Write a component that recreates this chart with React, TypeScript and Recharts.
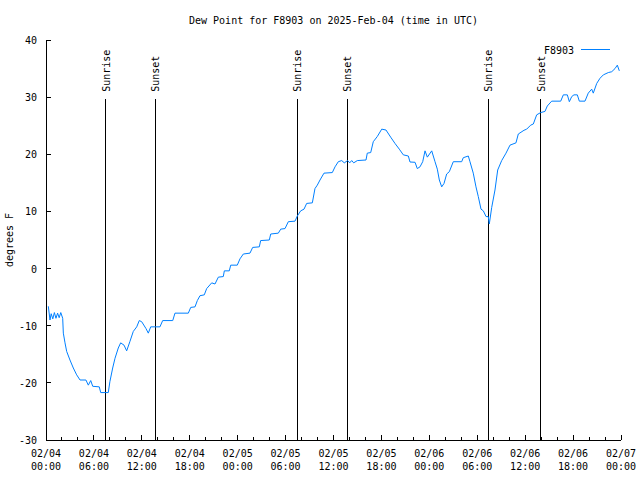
import React from 'react';
import { LineChart, Line, XAxis, YAxis, ReferenceLine } from 'recharts';

// Hours since 2025-02-04 00:00 UTC
const hours = [
  0.29, 0.5, 0.65, 0.85, 1.05, 1.25, 1.45, 1.65, 1.85, 2.09, 2.17, 2.38, 2.59, 3.0, 3.42, 3.84, 4.26, 5.0, 5.3, 5.6,
  5.85, 6.67, 6.85, 7.8, 8.0, 8.35, 8.64, 9.05, 9.35, 9.77, 10.1, 10.5, 10.93, 11.36, 11.68, 11.98, 12.52, 12.81, 13.11, 14.27,
  14.61, 15.87, 16.15, 17.82, 18.12, 18.66, 18.95, 19.28, 19.82, 20.12, 20.75, 21.16, 21.58, 22.2, 22.33, 22.95, 23.13, 23.95, 24.29, 24.71,
  25.54, 25.88, 26.71, 26.88, 27.96, 28.14, 29.09, 29.39, 29.93, 30.34, 31.18, 31.47, 31.89, 32.31, 32.64, 33.35, 33.68, 33.97, 34.31, 34.81,
  35.85, 36.19, 36.6, 37.03, 37.35, 37.78, 38.03, 38.28, 38.53, 38.98, 40.07, 40.23, 40.66, 40.98, 41.48, 42.04, 42.57, 43.16, 43.7, 44.24,
  44.74, 45.37, 45.58, 46.21, 46.49, 46.83, 47.17, 47.46, 47.75, 48.3, 48.71, 49.0, 49.25, 49.55, 49.84, 50.17, 50.5, 51.0, 52.05, 52.25,
  52.88, 53.09, 53.5, 53.84, 54.13, 54.47, 54.76, 55.1, 55.38, 55.51, 55.81, 56.22, 56.56, 57.06, 57.6, 58.1, 58.85, 59.14, 59.85, 60.19,
  60.69, 61.02, 61.44, 61.94, 62.48, 62.77, 63.32, 64.45, 64.78, 65.28, 65.53, 65.83, 66.11, 66.53, 66.78, 67.49, 67.9, 68.33, 68.53, 68.96,
  69.37, 69.79, 70.41, 70.84, 71.25, 71.54, 71.79,
];

const dewPointF = [
  -6.6, -9.0, -7.9, -8.8, -7.7, -8.7, -7.8, -8.6, -7.7, -8.7, -11.3, -13.0, -14.5, -16.0, -17.4, -18.6, -19.5, -19.5, -20.4, -19.6,
  -20.6, -20.7, -21.7, -21.7, -19.8, -17.4, -15.7, -13.9, -13.0, -13.4, -14.4, -12.8, -11.0, -10.2, -9.1, -9.3, -10.5, -11.3, -10.2, -10.2,
  -9.1, -9.1, -7.8, -7.8, -6.8, -6.7, -5.6, -4.75, -4.6, -3.5, -2.5, -2.7, -1.5, -1.4, -0.4, -0.4, 0.6, 0.6, 1.7, 2.55,
  2.7, 3.7, 3.8, 4.9, 5.0, 6.05, 6.2, 6.9, 7.0, 8.2, 8.3, 9.2, 10.1, 10.4, 11.4, 11.5, 14.0, 14.6, 15.5, 16.7,
  16.8, 17.8, 18.7, 18.9, 18.5, 18.9, 18.5, 18.9, 18.5, 18.9, 19.0, 20.2, 20.3, 22.2, 23.1, 24.4, 24.25, 23.0, 21.9, 20.9,
  19.9, 19.7, 18.65, 18.6, 17.5, 17.8, 18.7, 20.6, 19.5, 20.6, 18.7, 17.4, 15.5, 14.3, 14.9, 16.55, 16.95, 18.7, 18.7, 19.4,
  19.7, 18.7, 16.7, 14.3, 12.6, 10.4, 10.1, 9.1, 9.1, 7.8, 10.7, 13.75, 17.25, 18.9, 20.2, 21.6, 22.0, 23.55, 24.2, 24.4,
  25.1, 25.3, 26.9, 27.3, 27.5, 28.45, 29.3, 29.3, 30.4, 30.4, 29.2, 30.1, 30.4, 30.4, 29.3, 29.3, 30.7, 31.4, 30.7, 32.4,
  33.3, 33.9, 34.3, 34.45, 35.0, 35.6, 34.6,
];

const sunriseHours = [7.47, 31.47, 55.39];
const sunsetHours = [13.65, 37.73, 61.94];
const sunLineRange = [29.7, -30];

const xTickHours = [0, 2, 4, 6, 8, 10, 12, 14, 16, 18, 20, 22, 24, 26, 28, 30, 32, 34, 36, 38, 40, 42, 44, 46, 48, 50, 52, 54, 56, 58, 60, 62, 64, 66, 68, 70, 72];
const xMajorHours = [0, 6, 12, 18, 24, 30, 36, 42, 48, 54, 60, 66, 72];
const xDateLabels = ['02/04', '02/04', '02/04', '02/04', '02/05', '02/05', '02/05', '02/05', '02/06', '02/06', '02/06', '02/06', '02/07'];
const xTimeLabels = ['00:00', '06:00', '12:00', '18:00', '00:00', '06:00', '12:00', '18:00', '00:00', '06:00', '12:00', '18:00', '00:00'];
const yTicks = [-30, -20, -10, 0, 10, 20, 30, 40];

const chartTitle = 'Dew Point for F8903 on 2025-Feb-04 (time in UTC)';
const yLabel = 'degrees F';
const seriesName = 'F8903';

const FONT = '"DejaVu Sans Mono", monospace';
const FS = 10;
const LINE_COLOR = '#0080ff';
const MAJOR = 5;
const MINOR = 3;

const data = hours.map((h, i) => ({ h, v: dewPointF[i] }));

const BottomTick = (p: any) => {
  const { x, y, payload } = p;
  const idx = xMajorHours.indexOf(payload.value);
  const len = idx >= 0 ? MAJOR : MINOR;
  return (
    <g>
      <line x1={x} x2={x} y1={y} y2={y - len} stroke="#000" shapeRendering="crispEdges" />
      {idx >= 0 && (
        <text x={x} y={y + 17} textAnchor="middle" fontFamily={FONT} fontSize={FS} fill="#000">
          {xDateLabels[idx]}
        </text>
      )}
      {idx >= 0 && (
        <text x={x} y={y + 30} textAnchor="middle" fontFamily={FONT} fontSize={FS} fill="#000">
          {xTimeLabels[idx]}
        </text>
      )}
    </g>
  );
};

const TopTick = (p: any) => {
  const { x, y, payload } = p;
  const idx = xMajorHours.indexOf(payload.value);
  const len = idx >= 0 ? MAJOR : MINOR;
  return <line x1={x} x2={x} y1={y} y2={y + len} stroke="#000" shapeRendering="crispEdges" />;
};

const LeftTick = (p: any) => {
  const { x, y, payload } = p;
  return (
    <g>
      <line x1={x} x2={x + MAJOR} y1={y} y2={y} stroke="#000" shapeRendering="crispEdges" />
      <text x={x - 9} y={y + 4} textAnchor="end" fontFamily={FONT} fontSize={FS} fill="#000">
        {payload.value}
      </text>
    </g>
  );
};

const RightTick = (p: any) => {
  const { x, y } = p;
  return <line x1={x} x2={x - MAJOR} y1={y} y2={y} stroke="#000" shapeRendering="crispEdges" />;
};

const sunLabel = (text: string) => (props: any) => {
  const vb = props.viewBox || {};
  const x = (vb.x ?? 0) + 4;
  const y = (vb.y ?? 0) - 7;
  return (
    <text x={x} y={y} transform={`rotate(-90 ${x} ${y})`} textAnchor="start" fontFamily={FONT} fontSize={FS} fill="#000">
      {text}
    </text>
  );
};

export default function App() {
  const events = [
    ...sunriseHours.map((h) => ({ h, t: 'Sunrise' })),
    ...sunsetHours.map((h) => ({ h, t: 'Sunset' })),
  ];
  return (
    <div style={{ position: 'absolute', left: 0, top: 0, width: 640, height: 480, background: '#fff' }}>
      <LineChart width={640} height={480} data={data} margin={{ top: 40, right: 19, bottom: 0, left: 0 }}>
        <XAxis
          xAxisId="b"
          dataKey="h"
          type="number"
          domain={[0, 72]}
          ticks={xTickHours}
          interval={0}
          tickLine={false}
          tickSize={0}
          tickMargin={0}
          tick={<BottomTick />}
          axisLine={{ stroke: '#000', shapeRendering: 'crispEdges' }}
          height={40}
          allowDataOverflow
        />
        <XAxis
          xAxisId="t"
          orientation="top"
          dataKey="h"
          type="number"
          domain={[0, 72]}
          ticks={xTickHours}
          interval={0}
          tickLine={false}
          tickSize={0}
          tickMargin={0}
          tick={<TopTick />}
          axisLine={{ stroke: '#000', shapeRendering: 'crispEdges' }}
          height={0}
          allowDataOverflow
        />
        <YAxis
          yAxisId="l"
          type="number"
          domain={[-30, 40]}
          ticks={yTicks}
          interval={0}
          tickLine={false}
          tickSize={0}
          tickMargin={0}
          tick={<LeftTick />}
          axisLine={{ stroke: '#000', shapeRendering: 'crispEdges' }}
          width={46}
          allowDataOverflow
        />
        <YAxis
          yAxisId="r"
          orientation="right"
          type="number"
          domain={[-30, 40]}
          ticks={yTicks}
          interval={0}
          tickLine={false}
          tickSize={0}
          tickMargin={0}
          tick={<RightTick />}
          axisLine={{ stroke: '#000', shapeRendering: 'crispEdges' }}
          width={0}
          allowDataOverflow
        />
        {events.map((e, i) => (
          <ReferenceLine
            key={i}
            xAxisId="b"
            yAxisId="l"
            segment={[{ x: e.h, y: sunLineRange[0] }, { x: e.h, y: sunLineRange[1] }]}
            stroke="#000"
            strokeWidth={1}
            shapeRendering="crispEdges"
            ifOverflow="visible"
            label={sunLabel(e.t)}
          />
        ))}
        <Line
          xAxisId="b"
          yAxisId="l"
          dataKey="v"
          type="linear"
          stroke={LINE_COLOR}
          strokeWidth={1}
          dot={false}
          activeDot={false}
          isAnimationActive={false}
        />
      </LineChart>
      <svg width={640} height={480} style={{ position: 'absolute', left: 0, top: 0, pointerEvents: 'none' }}>
        <text x={333.5} y={24} textAnchor="middle" fontFamily={FONT} fontSize={FS} fill="#000">
          {chartTitle}
        </text>
        <text x={13} y={240} transform="rotate(-90 13 240)" textAnchor="middle" fontFamily={FONT} fontSize={FS} fill="#000">
          {yLabel}
        </text>
        <text x={574} y={54} textAnchor="end" fontFamily={FONT} fontSize={FS} fill="#000">
          {seriesName}
        </text>
        <line x1={581} x2={610} y1={49} y2={49} stroke={LINE_COLOR} strokeWidth={1} shapeRendering="crispEdges" />
      </svg>
    </div>
  );
}
